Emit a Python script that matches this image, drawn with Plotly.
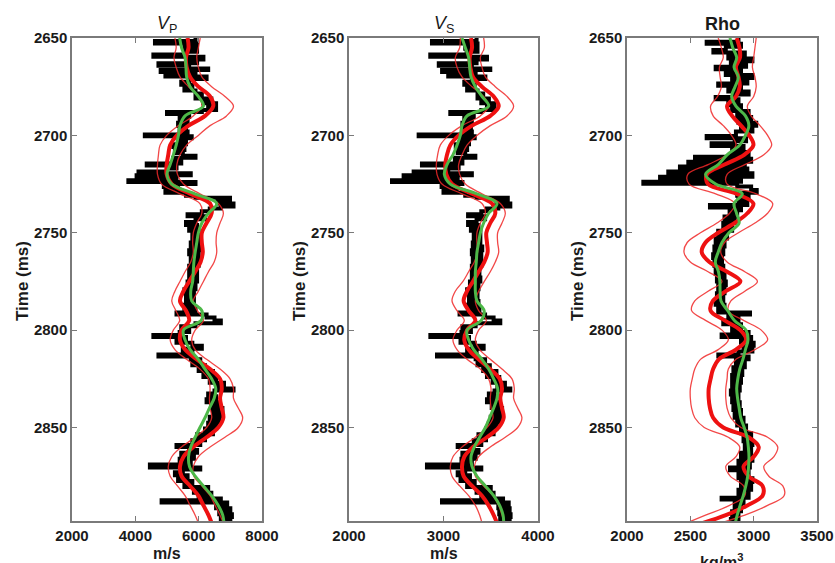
import plotly.graph_objects as go

# ---------------- time grid for smooth curves (ms) ----------------
t_grid = [2650, 2655, 2660, 2665, 2670, 2675, 2680, 2685, 2690, 2695,
          2700, 2705, 2710, 2715, 2720, 2725, 2730, 2735, 2740, 2745,
          2750, 2755, 2760, 2765, 2770, 2775, 2780, 2785, 2790, 2795,
          2800, 2805, 2810, 2815, 2820, 2825, 2830, 2835, 2840, 2845,
          2850, 2855, 2860, 2865, 2870, 2875, 2880, 2885, 2890, 2895, 2899]

# ---------------- VP panel ----------------
vp_green = [5400, 5460, 5570, 5600, 5620, 5730, 5990, 6150, 5570, 5410,
            5360, 5290, 5200, 5100, 5000, 5150, 5880, 6570, 6310, 6100,
            5990, 5940, 5890, 5850, 5830, 5810, 5750, 5780, 6100, 6080,
            5520, 5570, 5730, 5990, 6200, 6410, 6540, 6490, 6340, 6200,
            6040, 5890, 5750, 5680, 5710, 5890, 6150, 6410, 6620, 6760, 6800]
vp_mean = [5650, 5680, 5600, 5620, 5730, 5990, 6360, 6460, 6200, 5680,
           5310, 5100, 5040, 4990, 4990, 5150, 5730, 6360, 6410, 6250,
           6100, 6100, 6130, 6060, 5890, 5700, 5520, 5410, 5600, 5700,
           5460, 5410, 5570, 5940, 6360, 6675, 6730, 6675, 6730, 6780,
           6620, 6250, 5830, 5520, 5410, 5460, 5730, 5990, 6150, 6310, 6410]
vp_low = [5250, 5290, 5220, 5290, 5410, 5680, 5990, 6100, 5830, 5360,
          4990, 4780, 4730, 4700, 4700, 4830, 5410, 6040, 6100, 5940,
          5830, 5810, 5830, 5750, 5570, 5410, 5250, 5150, 5280, 5400,
          5200, 5100, 5250, 5620, 6040, 6310, 6360, 6340, 6360, 6410,
          6250, 5890, 5460, 5150, 5040, 5100, 5330, 5570, 5730, 5890, 5990]
vp_high = [6050, 5990, 5940, 5990, 6100, 6410, 6830, 7100, 6880, 6360,
           5990, 5620, 5410, 5310, 5330, 5520, 6040, 6620, 6780, 6675,
           6570, 6550, 6570, 6490, 6310, 6150, 5990, 5830, 5960, 6150,
           5890, 5780, 5890, 6250, 6675, 6990, 7100, 7100, 7250, 7390,
           7250, 6830, 6360, 5990, 5830, 5850, 6100, 6360, 6520, 6675, 6780]
vp_log_t = [2650.0, 2651.5, 2652.8, 2654.0, 2655.5, 2657.0, 2658.5, 2659.6, 2661.0, 2662.0,
            2663.0, 2664.3, 2665.6, 2666.4, 2667.5, 2668.8, 2669.8, 2671.0, 2672.5, 2674.0,
            2675.5, 2677.0, 2678.5, 2680.0, 2681.0, 2682.5, 2683.5, 2685.0, 2686.0, 2687.0,
            2688.0, 2689.0, 2690.5, 2692.0, 2693.5, 2695.0, 2696.5, 2698.0, 2699.5, 2700.5,
            2701.5, 2703.0, 2704.5, 2706.0, 2707.5, 2709.0, 2710.5, 2711.5, 2713.0, 2714.5,
            2715.5, 2717.0, 2718.5, 2719.5, 2720.5, 2721.5, 2723.0, 2724.0, 2725.0, 2726.5,
            2728.0, 2729.5, 2731.0, 2732.0, 2733.5, 2735.0, 2736.5, 2737.5, 2739.0, 2740.5,
            2741.5, 2743.0, 2744.5, 2746.0, 2747.5, 2749.0, 2751.0, 2753.0, 2755.0, 2757.0,
            2759.0, 2761.0, 2763.0, 2765.0, 2767.0, 2769.0, 2771.0, 2773.0, 2775.0, 2777.0,
            2779.0, 2781.0, 2783.0, 2785.0, 2787.0, 2789.0, 2791.0, 2792.0, 2793.5, 2795.0,
            2796.5, 2798.0, 2799.5, 2801.0, 2802.5, 2803.5, 2805.0, 2806.5, 2808.0, 2809.5,
            2811.0, 2812.5, 2813.5, 2815.0, 2816.5, 2818.0, 2819.5, 2821.0, 2822.5, 2824.0,
            2825.5, 2827.0, 2828.5, 2830.0, 2831.0, 2832.5, 2834.0, 2835.5, 2837.0, 2838.5,
            2840.0, 2841.5, 2843.0, 2844.5, 2846.0, 2847.5, 2849.0, 2850.5, 2852.0, 2853.5,
            2855.0, 2856.5, 2858.0, 2859.0, 2860.0, 2861.5, 2863.0, 2864.5, 2866.0, 2867.5,
            2869.0, 2870.5, 2871.5, 2873.0, 2874.5, 2876.0, 2877.5, 2879.0, 2880.5, 2882.0,
            2883.5, 2885.0, 2886.5, 2887.3, 2888.5, 2890.0, 2891.5, 2893.0, 2894.5, 2896.0,
            2897.5, 2899.0]
vp_log = [5900, 4620, 5950, 5550, 5950, 5600, 4570, 6150, 5650, 5950,
          4730, 5700, 6300, 4800, 5900, 4950, 6250, 5700, 5450, 5800,
          5550, 5900, 6100, 5900, 6400, 6150, 6550, 6300, 6550, 6100,
          5000, 5700, 5400, 5650, 5350, 5600, 5400, 5650, 4300, 5780,
          5350, 5600, 5200, 5550, 5250, 5500, 5900, 5200, 5450, 4360,
          5300, 5000, 4100, 5750, 4040, 5300, 3780, 5900, 4900, 5350,
          4950, 5600, 5900, 6990, 6600, 7100, 6700, 6350, 6100, 5650,
          6200, 5900, 5600, 5950, 5700, 6000, 5800, 6000, 5750, 6050,
          5700, 6000, 5750, 6000, 5700, 5950, 5700, 5950, 5650, 5900,
          5550, 5850, 5600, 5850, 5550, 5900, 5300, 6250, 6500, 6700,
          5900, 5450, 5700, 5400, 4570, 5600, 5300, 5800, 6100, 5500,
          5800, 4730, 5750, 6050, 5800, 6200, 6000, 6450, 6150, 6550,
          6350, 6800, 6550, 7100, 6500, 6300, 6550, 6250, 6650, 6400,
          6750, 6450, 6700, 6350, 6650, 6300, 6550, 6200, 6450, 5950,
          6200, 5800, 6050, 5300, 5700, 5950, 5450, 5850, 5400, 5750,
          4460, 6050, 5500, 5250, 5650, 5350, 5800, 5550, 6300, 5850,
          6400, 6000, 6700, 4830, 6900, 6550, 7000, 6650, 7050, 6700,
          7000, 6800]

# ---------------- VS panel ----------------
vs_green = [3196, 3231, 3266, 3277, 3291, 3337, 3407, 3478, 3249, 3196,
            3178, 3143, 3100, 3037, 3009, 3072, 3354, 3566, 3478, 3425,
            3390, 3372, 3354, 3347, 3337, 3337, 3337, 3354, 3430, 3400,
            3249, 3266, 3319, 3407, 3478, 3531, 3573, 3566, 3531, 3488,
            3443, 3383, 3326, 3291, 3302, 3354, 3443, 3531, 3594, 3630, 3637]
vs_mean = [3291, 3302, 3277, 3284, 3312, 3407, 3531, 3584, 3495, 3302,
           3160, 3072, 3037, 3019, 3030, 3090, 3302, 3513, 3548, 3495,
           3453, 3460, 3467, 3432, 3372, 3312, 3249, 3213, 3266, 3337,
           3249, 3220, 3266, 3372, 3495, 3594, 3619, 3601, 3619, 3637,
           3584, 3460, 3312, 3220, 3196, 3213, 3302, 3407, 3478, 3531, 3566]
vs_low = [3178, 3171, 3125, 3143, 3196, 3302, 3425, 3478, 3390, 3196,
          3055, 2966, 2938, 2924, 2931, 2984, 3196, 3407, 3443, 3390,
          3354, 3354, 3361, 3326, 3266, 3206, 3125, 3090, 3143, 3220,
          3143, 3100, 3143, 3249, 3390, 3478, 3503, 3495, 3503, 3524,
          3460, 3337, 3196, 3100, 3072, 3090, 3171, 3266, 3337, 3383, 3407]
vs_high = [3425, 3432, 3390, 3407, 3443, 3548, 3672, 3742, 3672, 3495,
           3354, 3249, 3196, 3160, 3171, 3231, 3407, 3601, 3654, 3619,
           3573, 3573, 3584, 3548, 3495, 3432, 3372, 3337, 3372, 3453,
           3372, 3337, 3383, 3495, 3619, 3725, 3749, 3742, 3785, 3830,
           3785, 3654, 3495, 3372, 3326, 3337, 3425, 3524, 3584, 3619, 3644]
vs_log = [3350, 2878, 3360, 3230, 3360, 3245, 2860, 3460, 3280, 3350,
          2950, 3300, 3495, 2985, 3340, 3050, 3443, 3300, 3220, 3330,
          3250, 3360, 3420, 3360, 3480, 3400, 3540, 3460, 3540, 3400,
          3072, 3320, 3220, 3300, 3200, 3290, 3220, 3300, 2737, 3330,
          3180, 3270, 3130, 3250, 3150, 3230, 3337, 3120, 3200, 2772,
          3160, 3050, 2684, 3300, 2578, 3150, 2455, 3200, 2980, 3140,
          3000, 3230, 3350, 3680, 3560, 3707, 3580, 3460, 3400, 3260,
          3440, 3350, 3260, 3370, 3290, 3390, 3320, 3390, 3310, 3410,
          3300, 3400, 3310, 3400, 3300, 3380, 3300, 3390, 3280, 3370,
          3250, 3360, 3270, 3370, 3260, 3380, 3170, 3440, 3530, 3601,
          3340, 3200, 3290, 3190, 2861, 3270, 3180, 3330, 3425, 3250,
          3350, 2931, 3340, 3440, 3360, 3490, 3420, 3560, 3460, 3590,
          3520, 3650, 3570, 3707, 3540, 3480, 3560, 3460, 3590, 3510,
          3620, 3530, 3610, 3500, 3600, 3480, 3560, 3450, 3530, 3370,
          3450, 3320, 3400, 3150, 3280, 3370, 3200, 3340, 3190, 3300,
          2825, 3400, 3230, 3150, 3280, 3180, 3330, 3250, 3500, 3350,
          3530, 3400, 3630, 2984, 3690, 3580, 3700, 3590, 3710, 3600,
          3700, 3640]

# ---------------- Rho panel ----------------
rho_green = [2813, 2835, 2866, 2845, 2879, 2853, 2826, 2860, 2935, 2962,
             2935, 2890, 2790, 2720, 2620, 2700, 2910, 2845, 2865, 2885,
             2805, 2750, 2720, 2697, 2722, 2733, 2735, 2742, 2795, 2848,
             2940, 2955, 2935, 2915, 2890, 2875, 2866, 2873, 2885, 2898,
             2925, 2948, 2958, 2963, 2960, 2953, 2938, 2918, 2893, 2870, 2855]
rho_mean = [2866, 2888, 2892, 2860, 2880, 2890, 2860, 2790, 2830, 2900,
            2965, 2998, 2925, 2770, 2630, 2640, 2865, 2998, 2950, 2850,
            2720, 2620, 2590, 2650, 2790, 2895, 2780, 2678, 2660, 2770,
            2895, 2940, 2860, 2725, 2680, 2660, 2645, 2645, 2655, 2680,
            2760, 2960, 3040, 3000, 2920, 2960, 3070, 3070, 2950, 2780, 2600]
rho_low = [2720, 2745, 2760, 2730, 2735, 2745, 2715, 2660, 2680, 2760,
           2825, 2860, 2790, 2640, 2480, 2490, 2700, 2850, 2810, 2710,
           2580, 2475, 2450, 2500, 2640, 2750, 2640, 2535, 2510, 2620,
           2750, 2800, 2720, 2580, 2535, 2515, 2500, 2500, 2510, 2535,
           2610, 2800, 2890, 2860, 2780, 2815, 2920, 2930, 2810, 2620, 2470]
rho_high = [3020, 3010, 3000, 2990, 3010, 3020, 3000, 2950, 2980, 3050,
            3110, 3142, 3080, 2930, 2790, 2790, 3020, 3150, 3110, 3010,
            2880, 2770, 2740, 2790, 2930, 3030, 2930, 2820, 2800, 2920,
            3060, 3110, 3010, 2860, 2800, 2790, 2780, 2780, 2790, 2820,
            2900, 3110, 3190, 3160, 3080, 3120, 3230, 3240, 3110, 2930, 2740]
rho_log_t = [2650.0, 2651.9, 2653.0, 2654.5, 2656.2, 2657.5, 2659.0, 2660.5, 2662.0, 2663.5,
             2664.7, 2666.0, 2667.5, 2669.0, 2670.5, 2672.0, 2673.3, 2674.5, 2676.0, 2677.5,
             2679.0, 2680.3, 2681.5, 2683.0, 2684.5, 2686.0, 2687.5, 2689.0, 2690.5, 2692.0,
             2693.5, 2695.0, 2696.5, 2698.0, 2700.3, 2701.5, 2703.0, 2704.1, 2705.5, 2707.0,
             2708.5, 2710.0, 2711.0, 2712.0, 2713.5, 2714.5, 2716.0, 2717.0, 2718.6, 2719.5,
             2721.2, 2722.3, 2723.8, 2724.8, 2726.3, 2728.0, 2729.5, 2731.0, 2732.5, 2734.0,
             2735.7, 2737.0, 2738.5, 2740.0, 2741.7, 2743.0, 2745.0, 2747.0, 2749.0, 2751.0,
             2753.0, 2755.0, 2757.0, 2759.0, 2761.0, 2763.0, 2765.0, 2767.0, 2769.0, 2771.0,
             2773.0, 2775.0, 2777.0, 2779.0, 2781.0, 2783.0, 2785.0, 2787.0, 2789.0, 2791.0,
             2792.0, 2793.5, 2795.0, 2797.0, 2799.0, 2801.0, 2802.3, 2803.5, 2805.0, 2806.5,
             2808.0, 2809.5, 2811.0, 2812.5, 2813.5, 2815.0, 2817.0, 2819.0, 2821.0, 2823.0,
             2825.0, 2827.0, 2829.0, 2831.0, 2833.0, 2835.0, 2837.0, 2839.0, 2841.0, 2843.0,
             2845.0, 2847.0, 2849.0, 2851.0, 2853.0, 2855.0, 2857.0, 2859.0, 2861.0, 2863.0,
             2865.0, 2867.0, 2869.0, 2870.5, 2872.0, 2874.0, 2876.0, 2878.0, 2880.0, 2882.0,
             2884.0, 2886.0, 2887.0, 2889.0, 2891.0, 2893.0, 2895.0, 2897.0, 2899.0]
rho_log = [2880, 2629, 2900, 2780, 2682, 2930, 2800, 2990, 2820, 2940,
           2700, 2900, 2780, 2990, 2830, 2950, 2720, 2900, 2800, 2960,
           2850, 2700, 2880, 2800, 2900, 2830, 2960, 2870, 2980, 2880,
           3020, 2900, 2990, 2860, 2629, 2940, 2850, 2668, 2920, 2830,
           2960, 2820, 2537, 2980, 2484, 2930, 2418, 2950, 2326, 2990,
           2261, 2900, 2129, 2870, 2980, 3024, 2870, 2960, 2880, 2950,
           2655, 2900, 2810, 2870, 2770, 2850, 2760, 2830, 2720, 2790,
           2700, 2770, 2690, 2760, 2680, 2750, 2690, 2760, 2700, 2770,
           2710, 2780, 2720, 2770, 2710, 2760, 2700, 2770, 2720, 2971,
           2800, 2880, 2760, 2900, 2830, 2960, 2747, 2980, 2900, 3000,
           2920, 2990, 2880, 2721, 2960, 2860, 2930, 2840, 2910, 2830,
           2900, 2830, 2890, 2820, 2880, 2830, 2890, 2840, 2900, 2850,
           2920, 2870, 2940, 2900, 2980, 2920, 2990, 2930, 2980, 2900,
           2990, 2880, 2970, 2813, 2960, 2880, 2990, 2900, 2980, 2880,
           2960, 2747, 2920, 2850, 2900, 2830, 2880, 2820, 2860]

# ---------------- axis / label text ----------------
panel_titles = ["<i>V</i><sub>P</sub>", "<i>V</i><sub>S</sub>", "<b>Rho</b>"]
x_ranges = [[2000, 8000], [2000, 4000], [2000, 3500]]
x_ticks = [[2000, 4000, 6000, 8000], [2000, 3000, 4000], [2000, 2500, 3000, 3500]]
x_units = ["<b>m/s</b>", "<b>m/s</b>", "<b>kg/m<sup>3</sup></b>"]
x_unit_top_px = [543, 543, 549]
y_ticks = [2650, 2700, 2750, 2800, 2850]
y_label = "<b>Time (ms)</b>"

W, H = 835, 563
px_left = [72, 349, 627]
px_right = [262, 538, 817]
px_top, px_bot = 38, 521

panels = [
    (vp_log_t, vp_log, vp_low, vp_high, vp_mean, vp_green),
    (vp_log_t, vs_log, vs_low, vs_high, vs_mean, vs_green),
    (rho_log_t, rho_log, rho_low, rho_high, rho_mean, rho_green),
]

fig = go.Figure()
tick_font = dict(family="Liberation Sans", size=15, color="#1a1a1a", weight="bold")
RED = "#ee1111"
THIN = "rgba(240,40,40,0.85)"
GREEN = "#4db848"

for i, (lt, lv, lo, hi, mean, green) in enumerate(panels):
    xa = "x" if i == 0 else f"x{i+1}"
    ya = "y" if i == 0 else f"y{i+1}"
    fig.add_trace(go.Scatter(x=lv, y=lt, mode="lines", xaxis=xa, yaxis=ya,
                             line=dict(color="black", width=4, shape="vh"),
                             showlegend=False, hoverinfo="skip"))
    for band in (lo, hi):
        fig.add_trace(go.Scatter(x=band, y=t_grid, mode="lines", xaxis=xa, yaxis=ya,
                                 line=dict(color=THIN, width=1.3, shape="spline", smoothing=1.0),
                                 showlegend=False, hoverinfo="skip"))
    fig.add_trace(go.Scatter(x=mean, y=t_grid, mode="lines", xaxis=xa, yaxis=ya,
                             line=dict(color=RED, width=4, shape="spline", smoothing=1.0),
                             showlegend=False, hoverinfo="skip"))
    fig.add_trace(go.Scatter(x=green, y=t_grid, mode="lines", xaxis=xa, yaxis=ya,
                             line=dict(color=GREEN, width=3, shape="spline", smoothing=1.0),
                             showlegend=False, hoverinfo="skip"))

    xdom = [px_left[i] / W, px_right[i] / W]
    ydom = [1 - px_bot / H, 1 - px_top / H]
    axis_common = dict(showline=True, linecolor="#7a7a7a", linewidth=1.5, mirror="ticks",
                       ticks="inside", ticklen=5, tickwidth=1.2, tickcolor="#7a7a7a",
                       showgrid=False, zeroline=False, tickfont=tick_font,
                       automargin=False)
    fig.update_layout(**{
        ("xaxis" if i == 0 else f"xaxis{i+1}"): dict(
            domain=xdom, range=x_ranges[i], tickvals=x_ticks[i],
            anchor=ya, **axis_common),
        ("yaxis" if i == 0 else f"yaxis{i+1}"): dict(
            domain=ydom, range=[2898, 2650], tickvals=y_ticks,
            anchor=xa, **axis_common),
    })
    cx = (px_left[i] + px_right[i]) / 2 / W
    fig.add_annotation(text=panel_titles[i], x=cx, y=1 - 24 / H, xref="paper", yref="paper",
                       showarrow=False, xanchor="center", yanchor="middle",
                       font=dict(family="Liberation Sans", size=18, color="#1a1a1a"))
    fig.add_annotation(text=x_units[i], x=cx, y=1 - x_unit_top_px[i] / H,
                       xref="paper", yref="paper",
                       showarrow=False, xanchor="center", yanchor="top",
                       font=dict(family="Liberation Sans", size=16, color="#1a1a1a"))
    fig.add_annotation(text=y_label, x=(px_left[i] - 50) / W, y=1 - 281 / H,
                       xref="paper", yref="paper", showarrow=False, textangle=-90,
                       xanchor="center", yanchor="middle",
                       font=dict(family="Liberation Sans", size=17, color="#1a1a1a"))

fig.update_layout(width=W, height=H, margin=dict(l=0, r=0, t=0, b=0, autoexpand=False),
                  paper_bgcolor="white", plot_bgcolor="white")
fig.write_html("out.html", config={"displayModeBar": False},
               post_script="document.body.style.margin='0px';document.body.style.overflow='hidden';")
